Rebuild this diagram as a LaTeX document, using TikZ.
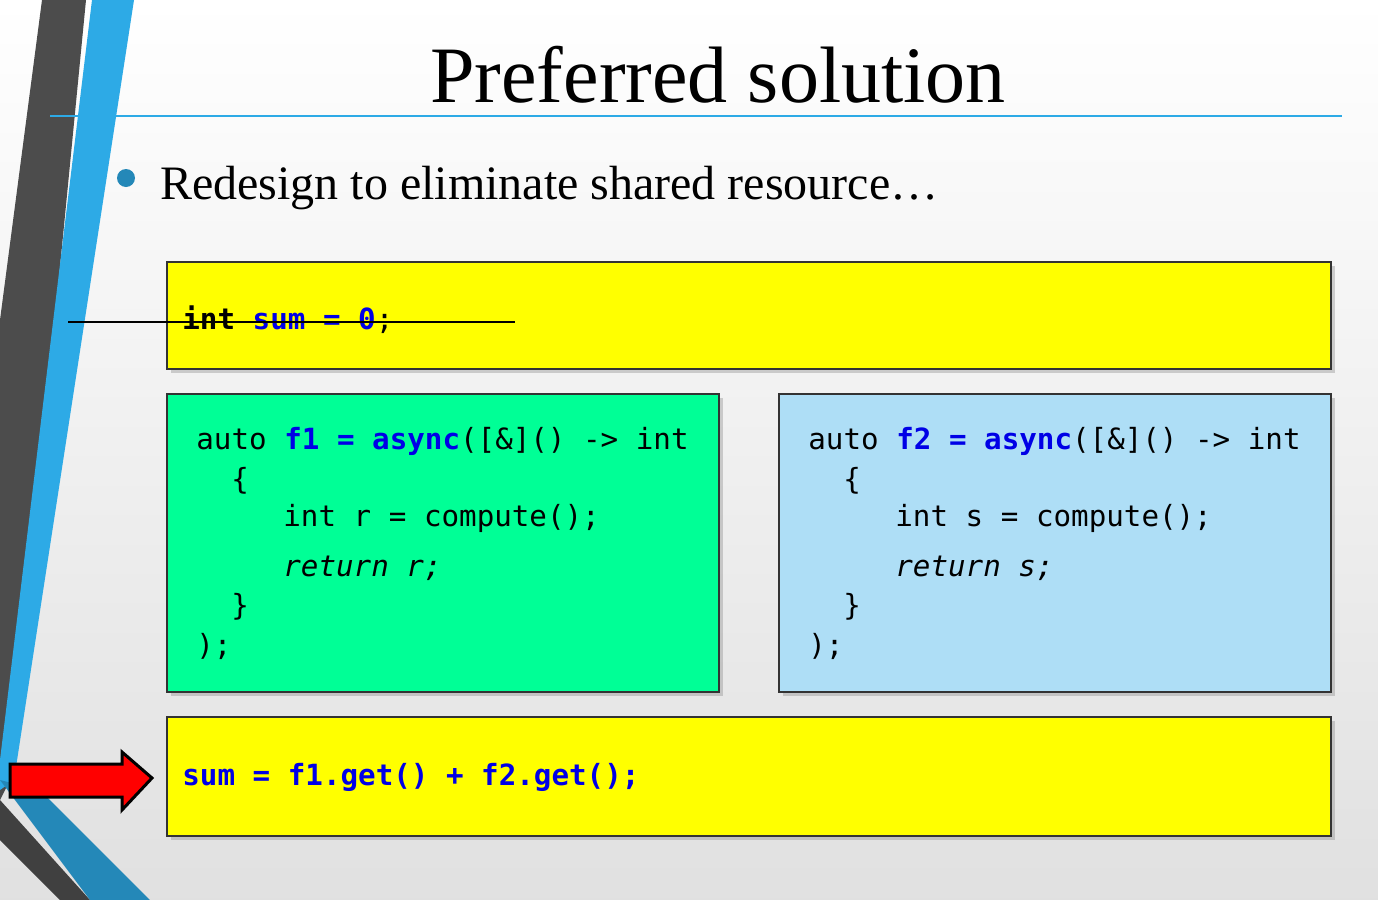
\documentclass[tikz,border=0pt]{standalone}
\usepackage{fontspec}
\setmainfont{Liberation Serif}
\newfontfamily\codef{DejaVu Sans Mono}
\usetikzlibrary{shadows}
\definecolor{kw}{RGB}{0,0,230}
\definecolor{sky}{RGB}{45,170,230}
\definecolor{ylw}{RGB}{255,255,0}
\definecolor{grn}{RGB}{0,255,150}
\definecolor{lblue}{RGB}{174,222,246}
\tikzset{
 box/.style={draw=black!80,line width=1.2pt,drop shadow={shadow xshift=2pt,shadow yshift=-2pt,opacity=0.35}},
 code/.style={font=\codef\fontsize{14.6}{17}\selectfont,anchor=west,inner sep=0},
}
\newcommand{\kb}[1]{\textcolor{kw}{\textbf{#1}}}
\begin{document}
\begin{tikzpicture}[x=0.5pt,y=-0.5pt]
\useasboundingbox (0,0) rectangle (1378,900);
\shade[top color=white,bottom color=black!12] (0,0) rectangle (1378,900);
% left stripes
\fill[black!70] (42,0) -- (86,0) -- (10,780) -- (0,800) -- (0,320) -- cycle;
\fill[sky] (92,0) -- (134,0) -- (14,780) -- (0,790) -- (0,760) -- cycle;
\fill[black!75] (0,800) -- (90,900) -- (60,900) -- (0,840) -- cycle;
\fill[sky!80!black] (0,780) -- (40,790) -- (150,900) -- (90,900) -- cycle;
% title
\node (title) at (718,75) {\fontsize{40}{46}\selectfont Preferred solution};
\draw[sky,line width=1pt] (50,116) -- (1342,116);
\fill[sky!80!black] (126,178) circle (9);
\node[anchor=west] (bullet) at (153,188) {\fontsize{24}{28}\selectfont Redesign to eliminate shared resource\ldots};
% boxes
\node[box,fill=ylw,minimum width=582pt,minimum height=53.5pt,anchor=north west,inner sep=0] (top) at (166,261) {};
\node[code] (sumdecl) at (182,320) {\textbf{int} \kb{sum = 0};};
\draw[line width=1pt] (68,322) -- (515,322);
\node[box,fill=grn,minimum width=276pt,minimum height=149pt,anchor=north west,inner sep=0] (g) at (166,393) {};
\node[box,fill=lblue,minimum width=276pt,minimum height=149pt,anchor=north west,inner sep=0] (b) at (778,393) {};
\foreach \x/\v/\r in {196/1/r,808/2/s}{
 \node[code] at (\x,441) {auto \kb{f\v\ =} \kb{async}([\&]() -> int};
 \node[code] at (\x+35,481) {\{};
 \node[code] at (\x+87,518) {int \r\ = compute();};
 \node[code] at (\x+87,568) {\itshape return \r;};
 \node[code] at (\x+35,607) {\}};
 \node[code] at (\x,646) {);};
}
\node[box,fill=ylw,minimum width=582pt,minimum height=59.5pt,anchor=north west,inner sep=0] (bot) at (166,716) {};
\node[code] (sumline) at (182,777) {\kb{sum = f1.get() + f2.get();}};
% arrow
\draw[line width=1.5pt,fill=red] (10,764) -- (122,764) -- (122,752) -- (152,778) -- (122,810) -- (122,797) -- (10,797) -- cycle;
\end{tikzpicture}
\end{document}
